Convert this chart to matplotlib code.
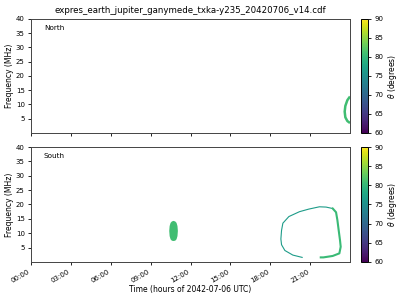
import matplotlib
matplotlib.use("Agg")
import matplotlib.pyplot as plt
import numpy as np
from matplotlib import cm, colors

# chart data
title = "expres_earth_jupiter_ganymede_txka-y235_20420706_v14.cdf"
hour_ticks = [0, 3, 6, 9, 12, 15, 18, 21]
hour_labels = ["00:00", "03:00", "06:00", "09:00", "12:00", "15:00", "18:00", "21:00"]
freq_ticks = [5, 10, 15, 20, 25, 30, 35, 40]
theta_ticks = [60, 65, 70, 75, 80, 85, 90]

# North hemisphere: partial arc at end of day (hours, MHz), theta deg
north_t = [24.0, 23.8, 23.65, 23.6, 23.65, 23.8, 24.0]
north_f = [12.8, 11.5, 9.5, 7.5, 5.5, 4.2, 3.5]
north_theta = 80.8

# South hemisphere: blob near 10:45
blob_t = [10.4, 10.43, 10.5, 10.6, 10.72, 10.85, 10.95, 11.02, 11.05, 11.02, 10.95, 10.85, 10.72, 10.6, 10.5, 10.43]
blob_f = [10.8, 12.5, 13.6, 14.1, 14.3, 14.1, 13.6, 12.5, 10.8, 9.0, 7.9, 7.4, 7.3, 7.4, 7.9, 9.0]
blob_theta = 80.8

# South hemisphere: loop, thin (left/top) part and thick (right) part
loop_thin_t = [20.4, 19.7, 19.1, 18.85, 18.8, 18.85, 18.95, 19.4, 20.2, 20.9, 21.7, 22.2, 22.7]
loop_thin_f = [1.6, 2.4, 4.0, 6.0, 8.0, 11.0, 13.5, 15.8, 17.5, 18.4, 19.2, 19.1, 18.6]
loop_thin_theta = 76.5
loop_thick_t = [22.7, 22.95, 23.05, 23.15, 23.25, 23.3, 23.2, 22.7, 22.0, 21.8]
loop_thick_f = [18.6, 17.3, 14.6, 11.0, 7.5, 5.3, 3.0, 2.1, 1.6, 1.6]
loop_thick_theta = 80.3

cmap = plt.get_cmap("viridis")
norm = colors.Normalize(vmin=60, vmax=90)

fig = plt.figure(figsize=(4, 3), dpi=100)
ax_n = fig.add_axes([0.0775, 0.5567, 0.7975, 0.38])
ax_s = fig.add_axes([0.0775, 0.1267, 0.7975, 0.3833])
cax_n = fig.add_axes([0.9025, 0.5567, 0.0175, 0.38])
cax_s = fig.add_axes([0.9025, 0.1267, 0.0175, 0.3833])

ax_n.plot(north_t, north_f, color=cmap(norm(north_theta)), lw=1.8, solid_capstyle="butt")
ax_s.fill(blob_t, blob_f, color=cmap(norm(blob_theta)), lw=0)
ax_s.plot(loop_thin_t, loop_thin_f, color=cmap(norm(loop_thin_theta)), lw=0.8)
ax_s.plot(loop_thick_t, loop_thick_f, color=cmap(norm(loop_thick_theta)), lw=1.5)

for ax, name in [(ax_n, "North"), (ax_s, "South")]:
    ax.set_xlim(0, 24)
    ax.set_ylim(0, 40)
    ax.set_xticks(hour_ticks)
    ax.set_yticks(freq_ticks)
    ax.set_ylabel("Frequency (MHz)", fontsize=5.5, labelpad=1)
    ax.tick_params(labelsize=5, length=2.5, width=0.6, pad=2)
    ax.text(0.04, 0.9, name, transform=ax.transAxes, fontsize=5.2)
    for sp in ax.spines.values():
        sp.set_linewidth(0.7)
        sp.set_color("#444444")

ax_n.set_xticklabels([])
ax_n.set_title(title, fontsize=6.2, pad=4)
ax_s.set_xticklabels(hour_labels, rotation=30, ha="right")
ax_s.set_xlabel("Time (hours of 2042-07-06 UTC)", fontsize=5.5, labelpad=1)

for cax in [cax_n, cax_s]:
    cb = fig.colorbar(cm.ScalarMappable(norm=norm, cmap=cmap), cax=cax, ticks=theta_ticks)
    cb.set_label(r"$\theta$ (degrees)", fontsize=5.5, labelpad=2)
    cb.ax.tick_params(labelsize=5, length=2.5, width=0.6, pad=2)
    cb.outline.set_linewidth(0.7)

fig.savefig("out.png", dpi=100)
